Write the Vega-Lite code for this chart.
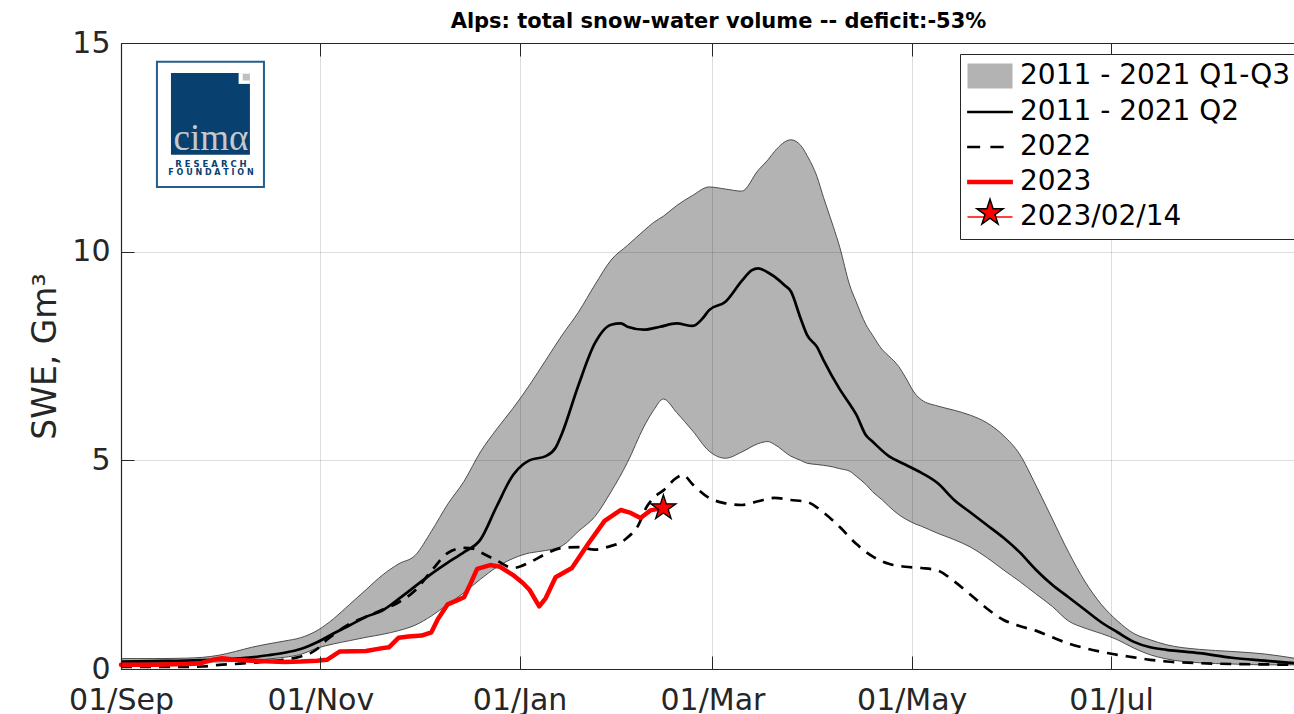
{
  "$schema": "https://vega.github.io/schema/vega-lite/v6.json",
  "width": 1173,
  "height": 626,
  "autosize": {"type": "none"},
  "padding": {"left": 121, "top": 43, "right": 0, "bottom": 45},
  "background": "white",
  "config": {"view": {"stroke": null}, "font": "DejaVu Sans"},
  "title": {"text": "Alps: total snow-water volume -- deficit:-53%", "font": "DejaVu Sans", "fontSize": 21, "fontWeight": "bold", "color": "#000000", "anchor": "middle", "frame": "group", "dx": 11, "dy": 32, "offset": 11, "baseline": "alphabetic"},
  "datasets": {
    "band": [
      {"date":"2022-09-01","q1":0.15,"q3":0.25},
      {"date":"2022-09-11","q1":0.15,"q3":0.25},
      {"date":"2022-09-21","q1":0.16,"q3":0.26},
      {"date":"2022-10-01","q1":0.17,"q3":0.33},
      {"date":"2022-10-06","q1":0.18,"q3":0.42},
      {"date":"2022-10-11","q1":0.2,"q3":0.52},
      {"date":"2022-10-16","q1":0.24,"q3":0.6},
      {"date":"2022-10-21","q1":0.28,"q3":0.67},
      {"date":"2022-10-26","q1":0.35,"q3":0.75},
      {"date":"2022-10-31","q1":0.5,"q3":0.92},
      {"date":"2022-11-05","q1":0.6,"q3":1.2},
      {"date":"2022-11-10","q1":0.68,"q3":1.55},
      {"date":"2022-11-15","q1":0.76,"q3":1.9},
      {"date":"2022-11-20","q1":0.83,"q3":2.25},
      {"date":"2022-11-25","q1":0.92,"q3":2.52},
      {"date":"2022-11-30","q1":1.05,"q3":2.72},
      {"date":"2022-12-05","q1":1.27,"q3":3.3},
      {"date":"2022-12-10","q1":1.55,"q3":3.95},
      {"date":"2022-12-15","q1":1.83,"q3":4.5},
      {"date":"2022-12-20","q1":2.15,"q3":5.2},
      {"date":"2022-12-25","q1":2.44,"q3":5.75},
      {"date":"2022-12-30","q1":2.65,"q3":6.25},
      {"date":"2023-01-04","q1":2.78,"q3":6.8},
      {"date":"2023-01-09","q1":2.84,"q3":7.4},
      {"date":"2023-01-14","q1":2.95,"q3":8.0},
      {"date":"2023-01-19","q1":3.3,"q3":8.55},
      {"date":"2023-01-24","q1":3.65,"q3":9.2},
      {"date":"2023-01-29","q1":4.25,"q3":9.8},
      {"date":"2023-02-03","q1":4.95,"q3":10.15},
      {"date":"2023-02-08","q1":5.8,"q3":10.5},
      {"date":"2023-02-11","q1":6.2,"q3":10.7},
      {"date":"2023-02-14","q1":6.47,"q3":10.85},
      {"date":"2023-02-18","q1":6.15,"q3":11.1},
      {"date":"2023-02-23","q1":5.7,"q3":11.35},
      {"date":"2023-02-28","q1":5.22,"q3":11.55},
      {"date":"2023-03-05","q1":5.05,"q3":11.5},
      {"date":"2023-03-10","q1":5.2,"q3":11.45},
      {"date":"2023-03-15","q1":5.4,"q3":11.95},
      {"date":"2023-03-18","q1":5.45,"q3":12.2},
      {"date":"2023-03-20","q1":5.38,"q3":12.4},
      {"date":"2023-03-25","q1":5.1,"q3":12.68},
      {"date":"2023-03-28","q1":5.0,"q3":12.55},
      {"date":"2023-03-30","q1":4.93,"q3":12.3},
      {"date":"2023-04-02","q1":4.9,"q3":11.8},
      {"date":"2023-04-04","q1":4.88,"q3":11.3},
      {"date":"2023-04-07","q1":4.84,"q3":10.6},
      {"date":"2023-04-09","q1":4.8,"q3":10.1},
      {"date":"2023-04-12","q1":4.74,"q3":9.2},
      {"date":"2023-04-14","q1":4.62,"q3":8.8},
      {"date":"2023-04-17","q1":4.42,"q3":8.25},
      {"date":"2023-04-19","q1":4.25,"q3":8.0},
      {"date":"2023-04-22","q1":4.05,"q3":7.65},
      {"date":"2023-04-24","q1":3.9,"q3":7.5},
      {"date":"2023-04-27","q1":3.7,"q3":7.25},
      {"date":"2023-04-29","q1":3.6,"q3":7.0},
      {"date":"2023-05-02","q1":3.48,"q3":6.6},
      {"date":"2023-05-04","q1":3.42,"q3":6.45},
      {"date":"2023-05-09","q1":3.25,"q3":6.3},
      {"date":"2023-05-14","q1":3.1,"q3":6.2},
      {"date":"2023-05-19","q1":2.92,"q3":6.08},
      {"date":"2023-05-24","q1":2.67,"q3":5.9},
      {"date":"2023-05-29","q1":2.38,"q3":5.6},
      {"date":"2023-06-03","q1":2.1,"q3":5.15},
      {"date":"2023-06-08","q1":1.8,"q3":4.4},
      {"date":"2023-06-13","q1":1.5,"q3":3.6},
      {"date":"2023-06-18","q1":1.15,"q3":2.8},
      {"date":"2023-06-23","q1":0.98,"q3":2.1},
      {"date":"2023-06-28","q1":0.85,"q3":1.55},
      {"date":"2023-07-03","q1":0.7,"q3":1.15},
      {"date":"2023-07-08","q1":0.5,"q3":0.85},
      {"date":"2023-07-13","q1":0.34,"q3":0.7},
      {"date":"2023-07-18","q1":0.24,"q3":0.58},
      {"date":"2023-07-28","q1":0.15,"q3":0.47},
      {"date":"2023-08-07","q1":0.12,"q3":0.42},
      {"date":"2023-08-17","q1":0.1,"q3":0.36},
      {"date":"2023-08-26","q1":0.1,"q3":0.26}
    ],
    "median": [
      {"date":"2022-09-01","swe":0.18},
      {"date":"2022-09-11","swe":0.19},
      {"date":"2022-09-21","swe":0.2},
      {"date":"2022-10-01","swe":0.23},
      {"date":"2022-10-06","swe":0.25},
      {"date":"2022-10-11","swe":0.28},
      {"date":"2022-10-16","swe":0.33},
      {"date":"2022-10-21","swe":0.39},
      {"date":"2022-10-26","swe":0.48},
      {"date":"2022-10-31","swe":0.64},
      {"date":"2022-11-05","swe":0.85},
      {"date":"2022-11-10","swe":1.05},
      {"date":"2022-11-15","swe":1.25},
      {"date":"2022-11-20","swe":1.4},
      {"date":"2022-11-25","swe":1.68},
      {"date":"2022-11-30","swe":1.98},
      {"date":"2022-12-05","swe":2.28},
      {"date":"2022-12-10","swe":2.55},
      {"date":"2022-12-15","swe":2.8},
      {"date":"2022-12-20","swe":3.1},
      {"date":"2022-12-25","swe":3.9},
      {"date":"2022-12-30","swe":4.65},
      {"date":"2023-01-02","swe":4.9},
      {"date":"2023-01-04","swe":5.0},
      {"date":"2023-01-09","swe":5.1},
      {"date":"2023-01-12","swe":5.3},
      {"date":"2023-01-14","swe":5.65},
      {"date":"2023-01-19","swe":6.8},
      {"date":"2023-01-24","swe":7.8},
      {"date":"2023-01-29","swe":8.25},
      {"date":"2023-02-01","swe":8.28},
      {"date":"2023-02-03","swe":8.2},
      {"date":"2023-02-08","swe":8.13},
      {"date":"2023-02-13","swe":8.2},
      {"date":"2023-02-18","swe":8.28},
      {"date":"2023-02-23","swe":8.22},
      {"date":"2023-02-26","swe":8.4},
      {"date":"2023-02-28","swe":8.6},
      {"date":"2023-03-05","swe":8.8},
      {"date":"2023-03-10","swe":9.3},
      {"date":"2023-03-13","swe":9.55},
      {"date":"2023-03-15","swe":9.6},
      {"date":"2023-03-18","swe":9.5},
      {"date":"2023-03-20","swe":9.4},
      {"date":"2023-03-23","swe":9.2},
      {"date":"2023-03-25","swe":9.05},
      {"date":"2023-03-28","swe":8.4},
      {"date":"2023-03-30","swe":8.0},
      {"date":"2023-04-02","swe":7.72},
      {"date":"2023-04-04","swe":7.4},
      {"date":"2023-04-09","swe":6.7},
      {"date":"2023-04-12","swe":6.35},
      {"date":"2023-04-14","swe":6.1},
      {"date":"2023-04-17","swe":5.6},
      {"date":"2023-04-19","swe":5.45},
      {"date":"2023-04-24","swe":5.1},
      {"date":"2023-04-29","swe":4.9},
      {"date":"2023-05-04","swe":4.7},
      {"date":"2023-05-09","swe":4.45},
      {"date":"2023-05-14","swe":4.05},
      {"date":"2023-05-19","swe":3.75},
      {"date":"2023-05-24","swe":3.45},
      {"date":"2023-05-29","swe":3.15},
      {"date":"2023-06-03","swe":2.8},
      {"date":"2023-06-08","swe":2.38},
      {"date":"2023-06-13","swe":2.02},
      {"date":"2023-06-18","swe":1.72},
      {"date":"2023-06-23","swe":1.42},
      {"date":"2023-06-28","swe":1.12},
      {"date":"2023-07-03","swe":0.88},
      {"date":"2023-07-08","swe":0.65},
      {"date":"2023-07-13","swe":0.52},
      {"date":"2023-07-18","swe":0.46},
      {"date":"2023-07-28","swe":0.38},
      {"date":"2023-08-07","swe":0.27},
      {"date":"2023-08-17","swe":0.2},
      {"date":"2023-08-26","swe":0.14}
    ],
    "y2022": [
      {"date":"2022-09-01","swe":0.05},
      {"date":"2022-09-11","swe":0.05},
      {"date":"2022-09-21","swe":0.05},
      {"date":"2022-09-26","swe":0.06},
      {"date":"2022-10-01","swe":0.1},
      {"date":"2022-10-06","swe":0.12},
      {"date":"2022-10-11","swe":0.15},
      {"date":"2022-10-16","swe":0.18},
      {"date":"2022-10-21","swe":0.22},
      {"date":"2022-10-26","swe":0.3},
      {"date":"2022-10-29","swe":0.38},
      {"date":"2022-10-31","swe":0.48},
      {"date":"2022-11-03","swe":0.7},
      {"date":"2022-11-05","swe":0.82},
      {"date":"2022-11-10","swe":1.08},
      {"date":"2022-11-15","swe":1.25},
      {"date":"2022-11-20","swe":1.42},
      {"date":"2022-11-25","swe":1.6},
      {"date":"2022-11-30","swe":1.88},
      {"date":"2022-12-05","swe":2.35},
      {"date":"2022-12-10","swe":2.78},
      {"date":"2022-12-15","swe":2.9},
      {"date":"2022-12-18","swe":2.88},
      {"date":"2022-12-20","swe":2.8},
      {"date":"2022-12-25","swe":2.6},
      {"date":"2022-12-30","swe":2.42},
      {"date":"2023-01-04","swe":2.55},
      {"date":"2023-01-09","swe":2.76},
      {"date":"2023-01-14","swe":2.9},
      {"date":"2023-01-19","swe":2.92},
      {"date":"2023-01-24","swe":2.86},
      {"date":"2023-01-29","swe":2.95},
      {"date":"2023-02-01","swe":3.03},
      {"date":"2023-02-03","swe":3.15},
      {"date":"2023-02-06","swe":3.4},
      {"date":"2023-02-09","swe":3.9},
      {"date":"2023-02-11","swe":4.1},
      {"date":"2023-02-14","swe":4.28},
      {"date":"2023-02-18","swe":4.58},
      {"date":"2023-02-20","swe":4.65},
      {"date":"2023-02-23","swe":4.42},
      {"date":"2023-02-28","swe":4.1},
      {"date":"2023-03-05","swe":3.97},
      {"date":"2023-03-10","swe":3.93},
      {"date":"2023-03-15","swe":4.02},
      {"date":"2023-03-20","swe":4.1},
      {"date":"2023-03-25","swe":4.05},
      {"date":"2023-03-30","swe":4.0},
      {"date":"2023-04-04","swe":3.75},
      {"date":"2023-04-09","swe":3.4},
      {"date":"2023-04-14","swe":3.0},
      {"date":"2023-04-19","swe":2.7},
      {"date":"2023-04-24","swe":2.52},
      {"date":"2023-04-29","swe":2.45},
      {"date":"2023-05-04","swe":2.42},
      {"date":"2023-05-09","swe":2.36},
      {"date":"2023-05-14","swe":2.1},
      {"date":"2023-05-19","swe":1.78},
      {"date":"2023-05-24","swe":1.45},
      {"date":"2023-05-29","swe":1.18},
      {"date":"2023-06-03","swe":1.03},
      {"date":"2023-06-08","swe":0.92},
      {"date":"2023-06-13","swe":0.76},
      {"date":"2023-06-18","swe":0.61},
      {"date":"2023-06-23","swe":0.5},
      {"date":"2023-06-28","swe":0.41},
      {"date":"2023-07-03","swe":0.34},
      {"date":"2023-07-08","swe":0.28},
      {"date":"2023-07-13","swe":0.22},
      {"date":"2023-07-18","swe":0.18},
      {"date":"2023-07-28","swe":0.14},
      {"date":"2023-08-07","swe":0.12},
      {"date":"2023-08-17","swe":0.11},
      {"date":"2023-08-26","swe":0.1}
    ],
    "y2023": [
      {"date":"2022-09-01","swe":0.1},
      {"date":"2022-09-11","swe":0.1},
      {"date":"2022-09-21","swe":0.12},
      {"date":"2022-09-25","swe":0.13},
      {"date":"2022-09-29","swe":0.22},
      {"date":"2022-10-02","swe":0.26},
      {"date":"2022-10-06","swe":0.22},
      {"date":"2022-10-11","swe":0.2},
      {"date":"2022-10-21","swe":0.17},
      {"date":"2022-10-26","swe":0.18},
      {"date":"2022-10-31","swe":0.2},
      {"date":"2022-11-03","swe":0.22},
      {"date":"2022-11-07","swe":0.42},
      {"date":"2022-11-15","swe":0.43},
      {"date":"2022-11-20","swe":0.5},
      {"date":"2022-11-22","swe":0.52},
      {"date":"2022-11-25","swe":0.75},
      {"date":"2022-11-28","swe":0.78},
      {"date":"2022-12-02","swe":0.8},
      {"date":"2022-12-05","swe":0.88},
      {"date":"2022-12-07","swe":1.2},
      {"date":"2022-12-10","swe":1.55},
      {"date":"2022-12-13","swe":1.65},
      {"date":"2022-12-15","swe":1.72},
      {"date":"2022-12-17","swe":2.05},
      {"date":"2022-12-19","swe":2.4},
      {"date":"2022-12-23","swe":2.49},
      {"date":"2022-12-26","swe":2.45},
      {"date":"2022-12-30","swe":2.25},
      {"date":"2023-01-02","swe":2.06},
      {"date":"2023-01-04","swe":1.9},
      {"date":"2023-01-07","swe":1.5},
      {"date":"2023-01-09","swe":1.7},
      {"date":"2023-01-12","swe":2.2},
      {"date":"2023-01-17","swe":2.42},
      {"date":"2023-01-22","swe":3.0},
      {"date":"2023-01-27","swe":3.55},
      {"date":"2023-02-01","swe":3.81},
      {"date":"2023-02-04","swe":3.74},
      {"date":"2023-02-07","swe":3.62},
      {"date":"2023-02-10","swe":3.8},
      {"date":"2023-02-14","swe":3.86}
    ],
    "today": [{"date":"2023-02-14","swe":3.86}],
    "legend": [
      {"label":"2011 - 2021 Q1-Q3"},
      {"label":"2011 - 2021 Q2"},
      {"label":"2022"},
      {"label":"2023"},
      {"label":"2023/02/14"}
    ]
  },
  "layer": [
    {
      "data": {"name": "band"},
      "mark": {"type": "area", "color": "#b3b3b3", "fillOpacity": 1, "interpolate": "monotone"},
      "encoding": {
        "x": {"field": "date", "type": "temporal",
          "scale": {"type": "utc", "nice": false, "domain": [{"year":2022,"month":9,"date":1,"utc":true},{"year":2023,"month":8,"date":26,"utc":true}]},
          "axis": {"orient": "bottom", "title": null, "labelExpr": "utcFormat(datum.value, '%d/%b')",
            "values": [{"year":2022,"month":9,"date":1,"utc":true},{"year":2022,"month":11,"date":1,"utc":true},{"year":2023,"month":1,"date":1,"utc":true},{"year":2023,"month":3,"date":1,"utc":true},{"year":2023,"month":5,"date":1,"utc":true},{"year":2023,"month":7,"date":1,"utc":true}],
            "labelFont": "DejaVu Sans", "labelFontSize": 30, "labelColor": "#262626", "labelPadding": 29, "labelFlush": false, "labelOverlap": false,
            "tickSize": -13, "tickColor": "#262626", "tickWidth": 1,
            "domainColor": "#262626", "domainWidth": 1.2,
            "grid": true, "gridColor": "#000000", "gridOpacity": 0.13, "gridWidth": 1, "zindex": 1}
        },
        "y": {"field": "q1", "type": "quantitative",
          "scale": {"domain": [0, 15], "nice": false, "zero": false},
          "axis": {"title": "SWE, Gm³", "titleFont": "DejaVu Sans", "titleFontSize": 33, "titleFontWeight": "normal", "titleColor": "#262626", "titlePadding": 9,
            "values": [0, 5, 10, 15], "labelFont": "DejaVu Sans", "labelFontSize": 30, "labelColor": "#262626", "labelPadding": 24, "labelFlush": false, "labelOverlap": false,
            "tickSize": -13, "tickColor": "#262626", "tickWidth": 1,
            "domainColor": "#262626", "domainWidth": 1.2,
            "grid": true, "gridColor": "#000000", "gridOpacity": 0.13, "gridWidth": 1, "zindex": 1}
        },
        "y2": {"field": "q3"}
      }
    },
    {
      "data": {"name": "band"},
      "mark": {"type": "line", "color": "#4d4d4d", "strokeWidth": 1, "interpolate": "monotone"},
      "encoding": {
        "x": {"field": "date", "type": "temporal", "axis": null},
        "y": {"field": "q1", "type": "quantitative"}
      }
    },
    {
      "data": {"name": "band"},
      "mark": {"type": "line", "color": "#4d4d4d", "strokeWidth": 1, "interpolate": "monotone"},
      "encoding": {
        "x": {"field": "date", "type": "temporal",
          "axis": {"orient": "top", "title": null, "labels": false, "grid": false, "minExtent": 0, "maxExtent": 0,
            "values": [{"year":2022,"month":9,"date":1,"utc":true},{"year":2022,"month":11,"date":1,"utc":true},{"year":2023,"month":1,"date":1,"utc":true},{"year":2023,"month":3,"date":1,"utc":true},{"year":2023,"month":5,"date":1,"utc":true},{"year":2023,"month":7,"date":1,"utc":true}],
            "tickSize": -13, "tickColor": "#262626", "tickWidth": 1,
            "domainColor": "#262626", "domainWidth": 1.2, "zindex": 1}
        },
        "y": {"field": "q3", "type": "quantitative"}
      }
    },
    {
      "data": {"name": "median"},
      "mark": {"type": "line", "color": "#000000", "strokeWidth": 2.7, "interpolate": "monotone"},
      "encoding": {
        "x": {"field": "date", "type": "temporal", "axis": null},
        "y": {"field": "swe", "type": "quantitative"}
      }
    },
    {
      "data": {"name": "y2022"},
      "mark": {"type": "line", "color": "#000000", "strokeWidth": 2.7, "strokeDash": [11, 8], "interpolate": "monotone"},
      "encoding": {
        "x": {"field": "date", "type": "temporal", "axis": null},
        "y": {"field": "swe", "type": "quantitative"}
      }
    },
    {
      "data": {"name": "y2023"},
      "mark": {"type": "line", "color": "#ff0000", "strokeWidth": 4.5, "strokeJoin": "round", "strokeCap": "round"},
      "encoding": {
        "x": {"field": "date", "type": "temporal", "axis": null},
        "y": {"field": "swe", "type": "quantitative"}
      }
    },
    {
      "data": {"name": "today"},
      "mark": {"type": "point", "filled": true, "opacity": 1, "size": 576, "fill": "#ff0000", "stroke": "#000000", "strokeWidth": 1.3,
        "shape": "M0,-1.1L0.247,-0.34L1.046,-0.34L0.399,0.13L0.647,0.89L0,0.42L-0.647,0.89L-0.399,0.13L-1.046,-0.34L-0.247,-0.34Z"},
      "encoding": {
        "x": {"field": "date", "type": "temporal", "axis": null},
        "y": {"field": "swe", "type": "quantitative"}
      }
    },
    {
      "data": {"values": [{}]},
      "mark": {"type": "rect", "fill": "#ffffff", "stroke": "#245d8f", "strokeWidth": 2},
      "encoding": {
        "x": {"datum": {"year":2022,"month":9,"date":12,"utc":true}, "type": "temporal", "axis": null},
        "x2": {"datum": {"year":2022,"month":10,"date":14,"hours":18,"utc":true}},
        "y": {"datum": 14.55, "type": "quantitative"},
        "y2": {"datum": 11.55}
      }
    },
    {
      "data": {"values": [{}]},
      "mark": {"type": "rect", "fill": "#08406f"},
      "encoding": {
        "x": {"datum": {"year":2022,"month":9,"date":16,"hours":7,"utc":true}, "type": "temporal", "axis": null},
        "x2": {"datum": {"year":2022,"month":10,"date":10,"hours":11,"utc":true}},
        "y": {"datum": 14.28, "type": "quantitative"},
        "y2": {"datum": 12.32}
      }
    },
    {
      "data": {"values": [{}]},
      "mark": {"type": "rect", "fill": "#ffffff"},
      "encoding": {
        "x": {"datum": {"year":2022,"month":10,"date":7,"utc":true}, "type": "temporal", "axis": null},
        "x2": {"datum": {"year":2022,"month":10,"date":10,"hours":11,"utc":true}},
        "y": {"datum": 14.28, "type": "quantitative"},
        "y2": {"datum": 14.02}
      }
    },
    {
      "data": {"values": [{}]},
      "mark": {"type": "rect", "fill": "#c0c0c0"},
      "encoding": {
        "x": {"datum": {"year":2022,"month":10,"date":8,"hours":6,"utc":true}, "type": "temporal", "axis": null},
        "x2": {"datum": {"year":2022,"month":10,"date":10,"hours":11,"utc":true}},
        "y": {"datum": 14.26, "type": "quantitative"},
        "y2": {"datum": 14.1}
      }
    },
    {
      "data": {"values": [{}]},
      "mark": {"type": "text", "text": "cimα", "font": "Liberation Serif", "fontSize": 37, "color": "#c6c9cc", "align": "center", "baseline": "alphabetic"},
      "encoding": {
        "x": {"datum": {"year":2022,"month":9,"date":28,"hours":13,"utc":true}, "type": "temporal", "axis": null},
        "y": {"datum": 12.44, "type": "quantitative"}
      }
    },
    {
      "data": {"values": [{}]},
      "mark": {"type": "text", "text": "R E S E A R C H", "font": "DejaVu Sans", "fontSize": 8.5, "fontWeight": "bold", "color": "#08406f", "align": "center", "baseline": "alphabetic"},
      "encoding": {
        "x": {"datum": {"year":2022,"month":9,"date":28,"hours":13,"utc":true}, "type": "temporal", "axis": null},
        "y": {"datum": 12.03, "type": "quantitative"}
      }
    },
    {
      "data": {"values": [{}]},
      "mark": {"type": "text", "text": "F O U N D A T I O N", "font": "DejaVu Sans", "fontSize": 8, "fontWeight": "bold", "color": "#08406f", "align": "center", "baseline": "alphabetic"},
      "encoding": {
        "x": {"datum": {"year":2022,"month":9,"date":28,"hours":13,"utc":true}, "type": "temporal", "axis": null},
        "y": {"datum": 11.84, "type": "quantitative"}
      }
    },
    {
      "data": {"name": "legend"},
      "transform": [{"filter": "false"}],
      "mark": {"type": "point", "filled": true, "opacity": 1, "strokeWidth": 1.5},
      "encoding": {
        "shape": {"field": "label", "type": "nominal",
          "scale": {"domain": ["2011 - 2021 Q1-Q3", "2011 - 2021 Q2", "2022", "2023", "2023/02/14"],
            "range": ["M-1.74,-0.94H1.74V0.94H-1.74Z", "M-1.77,-0.04H1.77V0.04H-1.77Z", "M-1.77,-0.04H-0.85V0.04H-1.77ZM0.09,-0.04H1.03V0.04H0.09Z", "M-1.77,-0.12H1.77V0.12H-1.77Z", "M-1.8,0H1.8"]},
          "legend": {"title": null, "orient": "none", "legendX": 839, "legendY": 11, "padding": 8, "symbolSize": 625, "symbolOffset": 8, "labelOffset": 16, "labelFont": "DejaVu Sans", "labelFontSize": 28, "labelColor": "#000000", "labelLimit": 500, "rowPadding": 7, "strokeColor": "#262626", "fillColor": "#ffffff", "symbolStrokeWidth": 1.5, "zindex": 2}},
        "fill": {"field": "label", "type": "nominal",
          "scale": {"domain": ["2011 - 2021 Q1-Q3", "2011 - 2021 Q2", "2022", "2023", "2023/02/14"],
            "range": ["#b3b3b3", "#000000", "#000000", "#ff0000", "transparent"]},
          "legend": {"title": null, "orient": "none", "legendX": 839, "legendY": 11, "padding": 8, "symbolSize": 625, "symbolOffset": 8, "labelOffset": 16, "labelFont": "DejaVu Sans", "labelFontSize": 28, "labelColor": "#000000", "labelLimit": 500, "rowPadding": 7, "strokeColor": "#262626", "fillColor": "#ffffff", "symbolStrokeWidth": 1.5, "zindex": 2}},
        "stroke": {"field": "label", "type": "nominal",
          "scale": {"domain": ["2011 - 2021 Q1-Q3", "2011 - 2021 Q2", "2022", "2023", "2023/02/14"],
            "range": ["#b3b3b3", "#000000", "#000000", "#ff0000", "#ff0000"]},
          "legend": {"title": null, "orient": "none", "legendX": 839, "legendY": 11, "padding": 8, "symbolSize": 625, "symbolOffset": 8, "labelOffset": 16, "labelFont": "DejaVu Sans", "labelFontSize": 28, "labelColor": "#000000", "labelLimit": 500, "rowPadding": 7, "strokeColor": "#262626", "fillColor": "#ffffff", "symbolStrokeWidth": 1.5, "zindex": 2}}
      }
    },
    {
      "data": {"name": "legend"},
      "transform": [{"filter": "false"}],
      "mark": {"type": "point", "filled": true, "opacity": 1, "strokeWidth": 1.5},
      "encoding": {
        "shape": {"field": "label", "type": "nominal",
          "scale": {"domain": ["2023/02/14"],
            "range": ["M0,-1.1L0.247,-0.34L1.046,-0.34L0.399,0.13L0.647,0.89L0,0.42L-0.647,0.89L-0.399,0.13L-1.046,-0.34L-0.247,-0.34Z"]},
          "legend": {"title": null, "orient": "none", "legendX": 839, "legendY": 148, "padding": 8, "symbolSize": 625, "symbolOffset": 8, "labelOffset": 16, "labelFont": "DejaVu Sans", "labelFontSize": 28, "labelExpr": "''", "rowPadding": 7, "symbolStrokeWidth": 1.5, "zindex": 2}},
        "fill": {"field": "label", "type": "nominal",
          "scale": {"domain": ["2023/02/14"], "range": ["#ff0000"]},
          "legend": {"title": null, "orient": "none", "legendX": 839, "legendY": 148, "padding": 8, "symbolSize": 625, "symbolOffset": 8, "labelOffset": 16, "labelFont": "DejaVu Sans", "labelFontSize": 28, "labelExpr": "''", "rowPadding": 7, "symbolStrokeWidth": 1.5, "zindex": 2}},
        "stroke": {"field": "label", "type": "nominal",
          "scale": {"domain": ["2023/02/14"], "range": ["#000000"]},
          "legend": {"title": null, "orient": "none", "legendX": 839, "legendY": 148, "padding": 8, "symbolSize": 625, "symbolOffset": 8, "labelOffset": 16, "labelFont": "DejaVu Sans", "labelFontSize": 28, "labelExpr": "''", "rowPadding": 7, "symbolStrokeWidth": 1.5, "zindex": 2}}
      }
    }
  ],
  "resolve": {
    "axis": {"x": "independent"},
    "scale": {"shape": "independent", "fill": "independent", "stroke": "independent"},
    "legend": {"shape": "independent", "fill": "independent", "stroke": "independent"}
  }
}
